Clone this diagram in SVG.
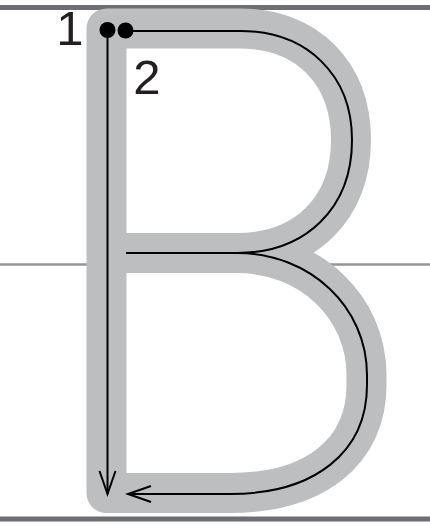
<svg xmlns="http://www.w3.org/2000/svg" width="430" height="526" viewBox="0 0 430 526">
<style>
.guide{stroke:#6d6e71;stroke-width:5;fill:none}
.mid{stroke:#939598;stroke-width:2.5;fill:none}
.band{stroke:#bcbec0;stroke-width:40;fill:none;stroke-linejoin:round}
.trace{stroke:#000;stroke-width:2;fill:none}
.num{font-family:"Liberation Sans",Arial,sans-serif;font-size:49px;fill:#231f20;text-anchor:middle}
</style>
<defs>
<marker id="arr" markerUnits="userSpaceOnUse" markerWidth="30" markerHeight="20" viewBox="-24 -10 26 20" refX="0" refY="0" orient="auto" overflow="visible">
<path d="M-23,-8 L0,0 L-23,8" fill="none" stroke="#000" stroke-width="2"/>
</marker>
</defs>
<g id="guides">
<line class="guide" x1="0" y1="7.5" x2="430" y2="7.5"/>
<line class="mid" x1="0" y1="264.5" x2="430" y2="264.5"/>
<line class="guide" x1="0" y1="519" x2="430" y2="519"/>
</g>
<g id="letter-band">
<path class="band" d="M106.5,253 H237 C310,253 366.5,307 366.5,375 V385 C366.5,452 315,493 230,493 H106.5 V28.5 H240 C307,28.5 351,73 351,140 C351,208 306,253 237,253"/>
</g>
<g id="connectors">
<path id="stroke1" class="trace" d="M107.5,30 V494" marker-end="url(#arr)"/>
<path id="stroke2" class="trace" d="M125.5,31 H240 C307,31 352,75 352,140 C352,208 306,253 237,253 H126 M237,253 C310,253 367,307 367,375 V385 C367,452 315,494 230,494 H128" marker-end="url(#arr)"/>
</g>
<g id="start1">
<circle cx="107.5" cy="30" r="8"/>
<text class="num" x="70" y="45">1</text>
</g>
<g id="start2">
<circle cx="125.5" cy="30.5" r="8"/>
<text class="num" x="147" y="94">2</text>
</g>
</svg>
